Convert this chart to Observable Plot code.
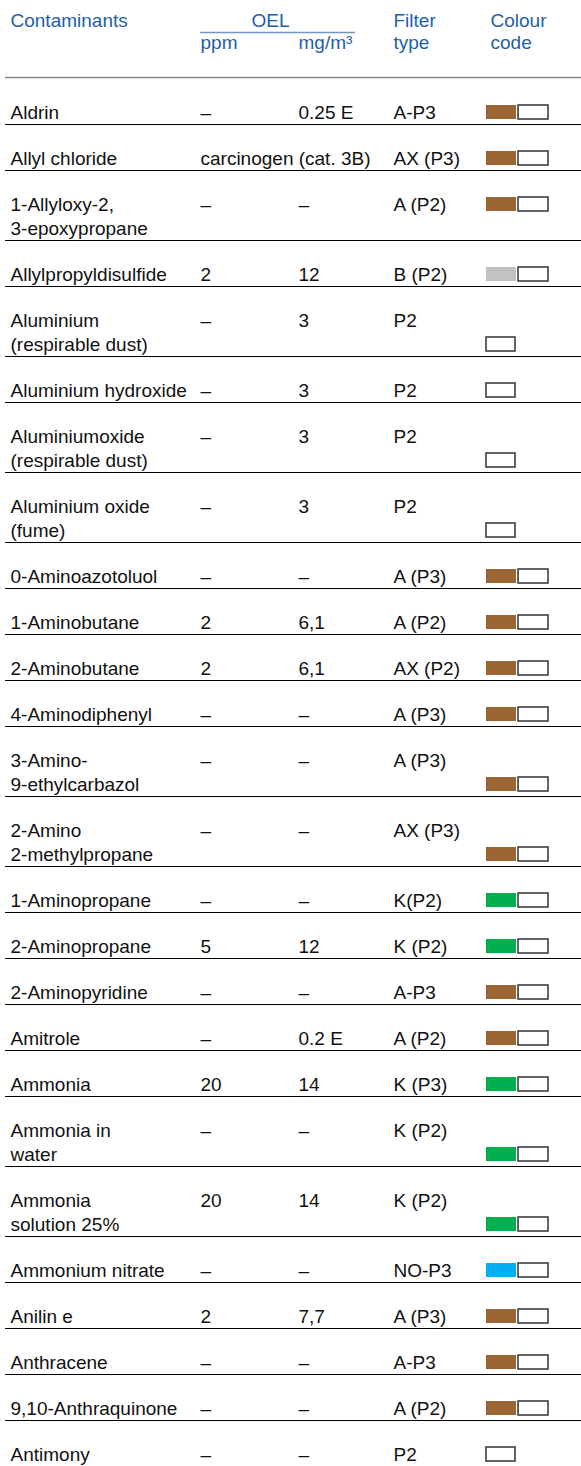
<!DOCTYPE html>
<html>
<head>
<meta charset="utf-8">
<script src="https://cdn.jsdelivr.net/npm/d3@7"></script>
<script src="https://cdn.jsdelivr.net/npm/@observablehq/plot@0.6"></script>
<style>
  html, body { margin: 0; padding: 0; background: #fff; }
</style>
</head>
<body>
<div id="chart"></div>
<script>
// ---- data ----
const names = [
  "Aldrin", "Allyl chloride", "1-Allyloxy-2,\n3-epoxypropane", "Allylpropyldisulfide",
  "Aluminium\n(respirable dust)", "Aluminium hydroxide", "Aluminiumoxide\n(respirable dust)",
  "Aluminium oxide\n(fume)", "0-Aminoazotoluol", "1-Aminobutane", "2-Aminobutane",
  "4-Aminodiphenyl", "3-Amino-\n9-ethylcarbazol", "2-Amino\n2-methylpropane",
  "1-Aminopropane", "2-Aminopropane", "2-Aminopyridine", "Amitrole", "Ammonia",
  "Ammonia in\nwater", "Ammonia\nsolution 25%", "Ammonium nitrate", "Anilin e",
  "Anthracene", "9,10-Anthraquinone", "Antimony"
];
const ppm = [
  "–", "carcinogen (cat. 3B)", "–", "2", "–", "–", "–", "–", "–", "2", "2", "–", "–", "–",
  "–", "5", "–", "–", "20", "–", "20", "–", "2", "–", "–", "–"
];
const mg = [
  "0.25 E", "", "–", "12", "3", "3", "3", "3", "–", "6,1", "6,1", "–", "–", "–",
  "–", "12", "–", "0.2 E", "14", "–", "14", "–", "7,7", "–", "–", "–"
];
const filters = [
  "A-P3", "AX (P3)", "A (P2)", "B (P2)", "P2", "P2", "P2", "P2", "A (P3)", "A (P2)", "AX (P2)",
  "A (P3)", "A (P3)", "AX (P3)", "K(P2)", "K (P2)", "A-P3", "A (P2)", "K (P3)", "K (P2)",
  "K (P2)", "NO-P3", "A (P3)", "A-P3", "A (P2)", "P2"
];
const colours = [
  "brown", "brown", "brown", "grey", null, null, null, null, "brown", "brown", "brown",
  "brown", "brown", "brown", "green", "green", "brown", "brown", "green", "green",
  "green", "blue", "brown", "brown", "brown", null
];
// which line of the name the colour code sits on (0 = first, 1 = last)
const swatchLine = [
  1, 1, 0, 1, 1, 1, 1, 1, 1, 1, 1, 1, 1, 1, 1, 1, 1, 1, 1, 1, 1, 1, 1, 1, 1, 1
];
const headers = [
  {col: "name", line: 0, t: "Contaminants"},
  {col: "oel", line: 0, t: "OEL"},
  {col: "ppm", line: 1, t: "ppm"},
  {col: "mg", line: 1, t: "mg/m³"},
  {col: "filter", line: 0, t: "Filter"},
  {col: "filter", line: 1, t: "type"},
  {col: "colour", line: 0, t: "Colour"},
  {col: "colour", line: 1, t: "code"}
];
const palette = {brown: "#9c6634", grey: "#c2c2c2", green: "#00b050", blue: "#00b0f0"};

// ---- layout ----
const W = 581, H = 1466;
const colX = {name: 10, ppm: 200, mg: 298, filter: 393, colour: 490, oel: 251};
const firstY = 112, rowGap = 46, lineGap = 24;
const headY = [20, 42];

const textCells = [];
const seps = [];
const swatches = [];
let y = firstY;
names.forEach((nm, i) => {
  const lines = nm.split("\n");
  lines.forEach((t, k) => textCells.push({x: colX.name, y: y + k * lineGap, t}));
  const last = y + (lines.length - 1) * lineGap;
  if (ppm[i]) textCells.push({x: colX.ppm, y, t: ppm[i]});
  if (mg[i]) textCells.push({x: colX.mg, y, t: mg[i]});
  textCells.push({x: colX.filter, y, t: filters[i]});
  const sy = swatchLine[i] === 0 ? y : last;
  if (colours[i]) {
    swatches.push({x1: 486, x2: 516, y1: sy - 7, y2: sy + 7, fill: palette[colours[i]], box: false});
    swatches.push({x1: 518, x2: 548, y1: sy - 7, y2: sy + 7, fill: "#fff", box: true});
  } else {
    swatches.push({x1: 486, x2: 515, y1: sy - 7, y2: sy + 7, fill: "#fff", box: true});
  }
  seps.push(last + 12);
  y = last + rowGap;
});

const headCells = headers.map(h => ({x: colX[h.col], y: headY[h.line], t: h.t}));

const font = "'Liberation Sans', Arial, Helvetica, sans-serif";
const chart = Plot.plot({
  width: W,
  height: H,
  margin: 0,
  x: {type: "linear", domain: [0, W], range: [0, W], axis: null},
  y: {type: "linear", domain: [0, H], range: [0, H], axis: null},
  style: {background: "#fff", fontFamily: font},
  marks: [
    Plot.ruleY([32], {x1: 200, x2: 355, stroke: "#6f98c8", strokeWidth: 1.6}),
    Plot.ruleY([77], {x1: 5, x2: W, stroke: "#8a8a8a", strokeWidth: 1.4}),
    Plot.ruleY(seps, {x1: 5, x2: W, stroke: "#000", strokeWidth: 1.2}),
    Plot.text(headCells, {x: "x", y: "y", text: "t", textAnchor: "start", lineAnchor: "middle",
      fill: "#1f5ea8", fontSize: 19, fontFamily: font}),
    Plot.text(textCells, {x: "x", y: "y", text: "t", textAnchor: "start", lineAnchor: "middle",
      fill: "#111", fontSize: 19, fontFamily: font}),
    Plot.rect(swatches.filter(d => !d.box), {x1: "x1", x2: "x2", y1: "y1", y2: "y2", fill: "fill"}),
    Plot.rect(swatches.filter(d => d.box), {x1: "x1", x2: "x2", y1: "y1", y2: "y2", fill: "#fff",
      stroke: "#333", strokeWidth: 1.5})
  ]
});
document.getElementById("chart").appendChild(chart);
</script>
</body>
</html>
